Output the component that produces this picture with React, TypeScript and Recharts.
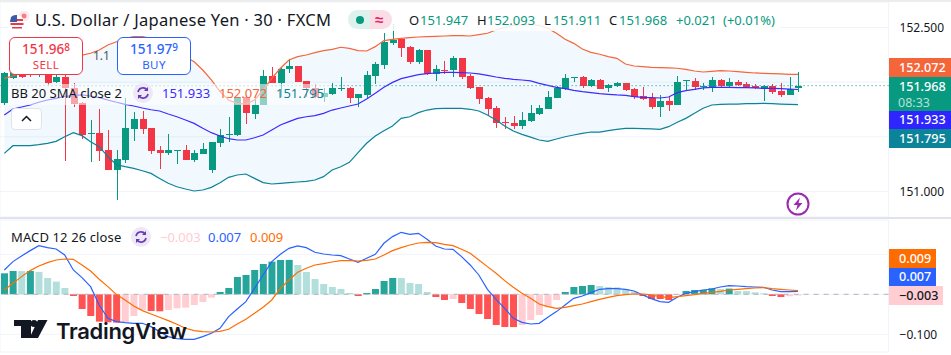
import { Bar, Area, Line, Cell, ComposedChart, CartesianGrid, XAxis, YAxis, ReferenceLine } from 'recharts';

// price pane, one value per 30 min candle
const opens = [151.812,152.041,152.127,152.142,152.066,152.066,151.998,152.044,151.944,151.806,151.529,151.532,151.380,151.197,151.288,151.575,151.660,151.578,151.376,151.355,151.373,151.380,151.288,151.346,151.197,151.447,151.523,151.517,151.867,151.709,151.791,152.056,151.995,152.117,152.148,152.011,151.948,151.867,151.895,151.941,151.947,151.855,151.883,152.056,152.160,152.361,152.392,152.322,152.184,152.294,152.078,152.114,152.114,152.221,152.056,151.953,151.855,151.761,151.636,151.626,151.602,151.648,151.709,151.758,151.858,151.941,152.035,152.047,151.965,152.017,151.944,151.965,151.989,151.937,151.870,151.852,151.776,151.825,151.794,152.011,152.011,151.959,151.959,152.020,151.965,151.998,151.980,151.965,151.941,151.962,151.916,151.883,151.947];
const highs = [152.096,152.105,152.148,152.166,152.148,152.127,152.066,152.416,151.989,151.822,151.654,151.752,151.562,151.380,151.852,151.730,151.736,151.578,151.416,151.526,151.380,151.425,151.380,151.441,151.450,151.569,151.678,151.867,151.883,151.867,152.111,152.142,152.127,152.209,152.148,152.011,151.979,151.948,151.989,152.044,151.953,151.889,152.099,152.187,152.447,152.532,152.407,152.331,152.303,152.294,152.157,152.194,152.239,152.221,152.075,151.959,151.864,151.782,151.684,151.690,151.724,151.791,151.791,151.919,151.965,152.075,152.047,152.056,152.026,152.026,151.983,152.005,151.989,151.944,151.953,151.898,151.883,151.867,152.056,152.017,152.035,151.989,152.044,152.029,152.035,152.020,151.998,151.983,151.974,151.983,151.989,152.044,152.093];
const lows = [151.791,152.026,152.035,152.044,152.050,151.974,151.989,151.282,151.776,151.477,151.273,151.279,151.197,150.922,151.264,151.465,151.526,151.340,151.203,151.334,151.252,151.288,151.273,151.346,151.172,151.410,151.456,151.508,151.617,151.663,151.791,151.989,151.867,152.087,152.005,151.867,151.851,151.822,151.883,151.922,151.812,151.770,151.858,151.983,152.120,152.340,152.227,152.166,152.166,152.066,152.011,152.075,152.050,152.032,151.937,151.800,151.700,151.584,151.572,151.572,151.572,151.639,151.700,151.751,151.852,151.928,152.002,151.950,151.959,151.934,151.913,151.959,151.922,151.849,151.837,151.755,151.684,151.739,151.794,151.928,151.928,151.928,151.913,151.953,151.953,151.965,151.944,151.937,151.831,151.892,151.867,151.883,151.911];
const closes = [152.087,152.096,152.050,152.066,152.127,151.989,152.050,151.944,151.797,151.517,151.535,151.370,151.197,151.297,151.578,151.660,151.575,151.370,151.355,151.380,151.380,151.288,151.349,151.389,151.450,151.517,151.529,151.867,151.715,151.791,152.056,151.995,152.120,152.148,152.005,151.948,151.867,151.898,151.944,151.947,151.855,151.889,152.066,152.166,152.364,152.386,152.312,152.184,152.294,152.078,152.120,152.108,152.218,152.047,151.950,151.846,151.755,151.626,151.626,151.602,151.654,151.718,151.767,151.864,151.950,152.038,152.047,151.962,152.020,151.941,151.974,151.992,151.931,151.861,151.846,151.776,151.825,151.794,151.998,152.017,151.959,151.965,152.017,151.965,151.998,151.974,151.956,151.944,151.962,151.913,151.883,151.941,151.968];
const bbUpper = [152.035,152.056,152.081,152.127,152.172,152.203,152.224,152.233,152.239,152.248,152.264,152.294,152.340,152.370,152.401,152.416,152.416,152.401,152.370,152.325,152.279,152.233,152.187,152.111,152.020,151.913,151.837,151.806,151.800,151.837,151.928,152.035,152.127,152.203,152.233,152.248,152.270,152.288,152.300,152.319,152.309,152.288,152.285,152.325,152.380,152.392,152.401,152.407,152.413,152.416,152.419,152.422,152.425,152.425,152.422,152.434,152.447,152.477,152.501,152.520,152.523,152.529,152.520,152.492,152.447,152.392,152.355,152.303,152.273,152.255,152.233,152.218,152.166,152.148,152.142,152.136,152.133,152.130,152.127,152.117,152.102,152.093,152.099,152.105,152.102,152.096,152.090,152.084,152.081,152.078,152.075,152.072,152.072];
const bbBasis = [151.700,151.755,151.773,151.791,151.816,151.837,151.852,151.870,151.876,151.883,151.873,151.858,151.837,151.816,151.797,151.782,151.764,151.748,151.736,151.709,151.684,151.654,151.623,151.578,151.538,151.508,151.483,151.471,151.471,151.492,151.517,151.562,151.608,151.639,151.669,151.684,151.694,151.715,151.745,151.764,151.782,151.800,151.846,151.898,151.953,151.998,152.032,152.050,152.069,152.078,152.084,152.090,152.090,152.087,152.084,152.075,152.062,152.047,152.035,152.026,152.020,152.011,151.989,151.971,151.953,151.941,151.925,151.913,151.904,151.895,151.889,151.883,151.880,151.867,151.861,151.858,151.855,151.864,151.904,151.922,151.934,151.947,151.953,151.953,151.953,151.950,151.950,151.947,151.944,151.944,151.941,151.937,151.933];
const bbLower = [151.349,151.419,151.419,151.419,151.428,151.441,151.459,151.501,151.538,151.511,151.456,151.410,151.319,151.245,151.227,151.212,151.190,151.166,151.120,151.075,151.044,151.023,151.005,151.014,151.038,151.081,151.130,151.151,151.160,151.120,151.081,151.069,151.075,151.081,151.087,151.093,151.105,151.136,151.197,151.227,151.267,151.355,151.441,151.508,151.556,151.599,151.669,151.684,151.721,151.745,151.758,151.761,151.761,151.761,151.752,151.736,151.700,151.654,151.599,151.553,151.523,151.498,151.471,151.459,151.480,151.501,151.517,151.532,151.544,151.544,151.556,151.569,151.578,151.578,151.575,151.572,151.569,151.593,151.633,151.669,151.715,151.761,151.791,151.797,151.800,151.800,151.803,151.803,151.806,151.803,151.800,151.797,151.795];

// macd pane
const histogram = [0.0525,0.0583,0.0581,0.0583,0.0558,0.0408,0.0317,0.0158,-0.0042,-0.0367,-0.0542,-0.0683,-0.07,-0.0708,-0.07,-0.0542,-0.0392,-0.0417,-0.0425,-0.0392,-0.035,-0.0333,-0.0267,-0.0192,-0.0083,0.0058,0.0158,0.0433,0.0483,0.0608,0.0758,0.0817,0.0858,0.086,0.0733,0.0558,0.0383,0.0258,0.0183,0.0133,0.0033,-0.0042,0.0033,0.0133,0.0333,0.0408,0.0406,0.0283,0.0258,0.0058,-0.0067,-0.0142,-0.0117,-0.0217,-0.0367,-0.0492,-0.0617,-0.0767,-0.0817,-0.0819,-0.0767,-0.0642,-0.0517,-0.0317,-0.0142,0.0058,0.0183,0.0208,0.0233,0.0208,0.0183,0.0175,0.0125,0.0067,-0.0042,-0.0117,-0.0119,-0.0142,-0.0017,0.0083,0.0108,0.011,0.015,0.0133,0.0142,0.0083,0.0081,0.005,0.0025,-0.0042,-0.0067,-0.005,-0.003];
const macdLine = [0.0608,0.0817,0.0958,0.1092,0.1217,0.1167,0.1133,0.0983,0.0608,0.0417,0.0192,-0.0267,-0.06,-0.0683,-0.0708,-0.0725,-0.0725,-0.0808,-0.0933,-0.1058,-0.1108,-0.1125,-0.1125,-0.1058,-0.0975,-0.085,-0.0558,-0.0367,-0.0183,0.015,0.0483,0.0817,0.1,0.115,0.1208,0.1167,0.105,0.1008,0.0983,0.0967,0.0883,0.08,0.09,0.1,0.1275,0.1442,0.155,0.15,0.1525,0.1375,0.1208,0.1133,0.1125,0.0942,0.0733,0.0483,0.0125,-0.0125,-0.035,-0.06,-0.07,-0.0742,-0.0725,-0.0575,-0.0433,-0.0267,-0.01,-0.0042,0.0042,0.0125,0.0142,0.0142,0.0125,0.0083,-0.0017,-0.0108,-0.0183,-0.02,-0.0075,0.0025,0.0067,0.0108,0.0133,0.0183,0.0217,0.0208,0.0192,0.0183,0.0175,0.0108,0.0067,0.0067,0.007];
const signalLine = [0.0108,0.0275,0.0442,0.0592,0.0708,0.0792,0.0858,0.0883,0.0875,0.0733,0.0583,0.0375,0.0192,-0.0008,-0.0142,-0.0292,-0.0408,-0.0492,-0.0575,-0.0658,-0.075,-0.085,-0.0908,-0.0933,-0.0942,-0.0925,-0.0875,-0.0742,-0.0625,-0.0475,-0.0325,-0.0142,0.015,0.0358,0.055,0.065,0.0733,0.0767,0.0808,0.0842,0.0842,0.0833,0.085,0.0883,0.0983,0.1092,0.1167,0.1233,0.1283,0.13,0.1292,0.125,0.1217,0.1125,0.1025,0.0858,0.0692,0.0525,0.0342,0.0175,0.0025,-0.01,-0.0242,-0.0308,-0.035,-0.0325,-0.0283,-0.0242,-0.0183,-0.0125,-0.0075,-0.0033,-0.0008,0.0008,0.0008,-0.0017,-0.0058,-0.0083,-0.0058,-0.0033,-0.0008,0.0025,0.005,0.0075,0.0108,0.0125,0.0142,0.0158,0.0167,0.0142,0.0125,0.0108,0.009];

// time axis runs past the last candle (empty slots on the right)
const slotCount = 103;
const gridSlots = [4, 16, 28, 40, 52, 64, 76, 88, 100];
const priceTicks = [151, 151.5, 152, 152.5];
const macdTicks = [-0.1, 0, 0.1];
const lastClose = 151.968;

const UP = '#089981';
const DOWN = '#F23645';
const GRID = '#F0F3FA';
const FONT = '"Noto Sans", sans-serif';

const priceData = Array.from({ length: slotCount }, (_, i) => ({
  i,
  open: opens[i],
  high: highs[i],
  low: lows[i],
  close: closes[i],
  upper: bbUpper[i],
  basis: bbBasis[i],
  lower: bbLower[i],
}));

const macdData = Array.from({ length: slotCount }, (_, i) => ({
  i,
  hist: histogram[i],
  macd: macdLine[i],
  signal: signalLine[i],
}));

// same colouring rule as the TradingView MACD histogram
function histColor(i: number) {
  const v = histogram[i];
  const rising = i === 0 || v > histogram[i - 1];
  if (v >= 0) return rising ? '#26A69A' : '#B2DFDB';
  return rising ? '#FFCDD2' : '#FF5252';
}

function Candle(props: any) {
  const { x, y, width, height, payload } = props;
  if (payload.open == null || !height) return null;
  const { open, high, low, close } = payload;
  const perUnit = height / (high - low);
  const cx = Math.round(x + width / 2);
  const top = y + (high - Math.max(open, close)) * perUnit;
  const bodyH = Math.max(Math.abs(open - close) * perUnit, 1);
  const color = close >= open ? UP : DOWN;
  return (
    <g shapeRendering="crispEdges">
      <rect x={cx} y={y} width={1} height={height} fill={color} />
      <rect x={cx - 3} y={top} width={7} height={bodyH} fill={color} />
    </g>
  );
}

function Txt({ x, y, size = 13, color = '#131722', weight = 400, spacing = 0, children }: any) {
  return (
    <div
      style={{
        position: 'absolute',
        left: x,
        top: y,
        transform: 'translateY(-50%)',
        fontSize: size,
        color,
        fontWeight: weight,
        letterSpacing: spacing,
        lineHeight: 1,
        whiteSpace: 'nowrap',
      }}
    >
      {children}
    </div>
  );
}

function Tag({ y, h, right = 951, bg, color = '#fff', children }: any) {
  return (
    <div
      style={{
        position: 'absolute',
        left: 889,
        top: y,
        width: right - 889,
        height: h,
        background: bg,
        color,
        fontSize: 12.6,
        fontWeight: 500,
        paddingLeft: 10,
        boxSizing: 'border-box',
        lineHeight: `${h}px`,
        whiteSpace: 'nowrap',
      }}
    >
      {children}
    </div>
  );
}

function RefreshIcon({ x, y }: { x: number; y: number }) {
  return (
    <svg style={{ position: 'absolute', left: x - 10, top: y - 10 }} width={20} height={20} viewBox="0 0 20 20">
      <circle cx={10} cy={10} r={10} fill="#EDE7F6" />
      <path d="M5 9a5 5 0 0 1 9-2" fill="none" stroke="#673AB7" strokeWidth={1.6} />
      <path d="M15 11a5 5 0 0 1-9 2" fill="none" stroke="#673AB7" strokeWidth={1.6} />
      <path d="M15 4v4h-4z M5 16v-4h4z" fill="#673AB7" />
    </svg>
  );
}

function OrderBox({ x, color, price, sup, label }: any) {
  return (
    <div
      style={{
        position: 'absolute',
        left: x,
        top: 37,
        width: 74,
        height: 38,
        background: '#fff',
        border: `1px solid ${color}`,
        borderRadius: 6,
        boxSizing: 'border-box',
        color,
        textAlign: 'center',
      }}
    >
      <div style={{ fontSize: 13.5, marginTop: 1, lineHeight: '17px', fontWeight: 500 }}>
        {price}
        <span style={{ fontSize: 10, verticalAlign: 3 }}>{sup}</span>
      </div>
      <div style={{ fontSize: 11.5, lineHeight: '14px', letterSpacing: 0.4 }}>{label}</div>
    </div>
  );
}

export default function App() {
  return (
    <div style={{ position: 'relative', width: 951, height: 355, overflow: 'hidden', background: '#fff', fontFamily: FONT }}>
      <style>{'body{margin:0}'}</style>

      <div style={{ position: 'absolute', left: 0, top: 0 }}>
        <ComposedChart width={951} height={218} data={priceData} margin={{ top: 2, right: 0, bottom: 1, left: 0 }} barCategoryGap={1}>
          <CartesianGrid stroke={GRID} strokeWidth={1} />
          <XAxis dataKey="i" ticks={gridSlots} interval={0} tick={false} axisLine={false} tickLine={false} height={0} />
          <YAxis
            orientation="right"
            domain={[150.767, 152.733]}
            allowDataOverflow
            ticks={priceTicks}
            width={62.4}
            axisLine={false}
            tickLine={false}
            tickMargin={5}
            tick={{ fontSize: 12, fill: '#131722', fontFamily: FONT }}
            tickFormatter={(v: number) => (v === 152.5 || v === 151 ? v.toFixed(3) : '')}
          />
          <Area dataKey={(d: any) => (d.upper == null ? null : [d.lower, d.upper])} fill="#2196F3" fillOpacity={0.06} stroke="none" isAnimationActive={false} />
          <Line dataKey="upper" stroke="#F7653A" strokeWidth={1.2} dot={false} isAnimationActive={false} />
          <Line dataKey="basis" stroke="#3D2BFF" strokeWidth={1.2} dot={false} isAnimationActive={false} />
          <Line dataKey="lower" stroke="#0B8399" strokeWidth={1.2} dot={false} isAnimationActive={false} />
          <ReferenceLine y={lastClose} stroke={UP} strokeDasharray="1 3" />
          <Bar dataKey={(d: any) => (d.low == null ? null : [d.low, d.high])} shape={Candle} isAnimationActive={false} />
        </ComposedChart>
      </div>

      <div style={{ position: 'absolute', left: 0, top: 219 }}>
        <ComposedChart width={951} height={135} data={macdData} margin={{ top: 1, right: 0, bottom: 2, left: 0 }} barCategoryGap={1}>
          <CartesianGrid stroke={GRID} strokeWidth={1} />
          <XAxis dataKey="i" ticks={gridSlots} interval={0} tick={false} axisLine={false} tickLine={false} height={0} />
          <YAxis
            orientation="right"
            domain={[-0.14425, 0.18575]}
            allowDataOverflow
            ticks={macdTicks}
            width={62.4}
            axisLine={false}
            tickLine={false}
            tickMargin={5}
            tick={{ fontSize: 12, fill: '#131722', fontFamily: FONT }}
            tickFormatter={(v: number) => (v === -0.1 ? '\u22120.100' : '')}
          />
          <ReferenceLine y={0} stroke="#B2B5BE" strokeDasharray="5 5" />
          <Bar dataKey="hist" barSize={7} isAnimationActive={false}>
            {macdData.map((d) => (
              <Cell key={d.i} fill={d.hist == null ? 'none' : histColor(d.i)} />
            ))}
          </Bar>
          <Line dataKey="macd" stroke="#2962FF" strokeWidth={1.2} dot={false} isAnimationActive={false} />
          <Line dataKey="signal" stroke="#FF6D00" strokeWidth={1.2} dot={false} isAnimationActive={false} />
        </ComposedChart>
      </div>

      {/* chrome lines */}
      <div style={{ position: 'absolute', left: 0, top: 0, width: 951, height: 2, background: '#EDEDED' }} />
      <div style={{ position: 'absolute', left: 0, top: 217, width: 951, height: 2, background: '#E0E3EB' }} />

      {/* header */}
      <div style={{ position: 'absolute', left: 8, top: 8, width: 772, height: 23, background: 'rgba(255,255,255,0.85)' }} />
      <svg style={{ position: 'absolute', left: 8, top: 8 }} width={24} height={24} viewBox="0 0 24 24">
        <circle cx={16} cy={8} r={5.5} fill="#FBE9EC" />
        <circle cx={16} cy={8} r={2.5} fill="#F23645" opacity={0.6} />
        <circle cx={9} cy={14} r={7} fill="#fff" />
        <path d="M3 11h12v2H2.5zM2.5 15h13v2h-13zM4 19h10v1.5H4z" fill="#E8394A" />
        <path d="M3 9a7 7 0 0 1 6-2v7H2z" fill="#3D5AA8" />
      </svg>
      <Txt x={35} y={20} size={16.5} color="#131722" spacing={0.28}>
        U.S. Dollar / Japanese Yen · 30 · FXCM
      </Txt>
      <div style={{ position: 'absolute', left: 348, top: 10, width: 22, height: 19, background: '#DDF1ED', borderRadius: '10px 0 0 10px' }} />
      <div style={{ position: 'absolute', left: 370, top: 10, width: 22, height: 19, background: '#FBDDE5', borderRadius: '0 10px 10px 0' }} />
      <div style={{ position: 'absolute', left: 356, top: 16, width: 8, height: 8, borderRadius: 4, background: UP }} />
      <Txt x={375} y={19} size={15} color="#E91E63" weight={700}>≈</Txt>
      <Txt x={409} y={20}>O</Txt>
      <Txt x={420} y={20} color={UP}>151.947</Txt>
      <Txt x={477} y={20}>H</Txt>
      <Txt x={487} y={20} color={UP}>152.093</Txt>
      <Txt x={544} y={20}>L</Txt>
      <Txt x={553} y={20} color={UP}>151.911</Txt>
      <Txt x={609} y={20}>C</Txt>
      <Txt x={619} y={20} color={UP}>151.968</Txt>
      <Txt x={676} y={20} color={UP}>+0.021</Txt>
      <Txt x={723} y={20} color={UP}>(+0.01%)</Txt>

      <OrderBox x={9} color={DOWN} price="151.96" sup="8" label="SELL" />
      <OrderBox x={117} color="#2962FF" price="151.97" sup="9" label="BUY" />
      <Txt x={93} y={56} size={12} color="#50535E">1.1</Txt>

      {/* BB legend row */}
      <div style={{ position: 'absolute', left: 8, top: 84, width: 321, height: 21, background: 'rgba(255,255,255,0.55)' }} />
      <Txt x={11} y={93} size={13} color="#131722">BB 20 SMA close 2</Txt>
      <RefreshIcon x={143} y={93} />
      <Txt x={162} y={93} color="#3D2BFF">151.933</Txt>
      <Txt x={219} y={93} color="#F7653A">152.072</Txt>
      <Txt x={276} y={93} color="#0B8399">151.795</Txt>
      <div style={{ position: 'absolute', left: 11, top: 108, width: 31, height: 22, boxSizing: 'border-box', border: '1px solid #E0E3EB', borderRadius: 4, background: '#fff' }} />
      <svg style={{ position: 'absolute', left: 20, top: 114 }} width={13} height={9} viewBox="0 0 13 9">
        <path d="M2 7l4.5-4.5L11 7" fill="none" stroke="#131722" strokeWidth={1.5} />
      </svg>

      {/* price tags */}
      <Tag y={58} h={19} bg="#F5653A">152.072</Tag>
      <div style={{ position: 'absolute', left: 889, top: 77, width: 62, height: 34, background: UP, color: '#fff', paddingLeft: 10, boxSizing: 'border-box', fontSize: 12.6, fontWeight: 500 }}>
        <div style={{ lineHeight: '19px' }}>151.968</div>
        <div style={{ lineHeight: '14px', fontSize: 12.5, fontWeight: 400, color: '#B5E0D8', marginLeft: -1 }}>08:33</div>
      </div>
      <Tag y={111} h={18} bg="#2E25FF">151.933</Tag>
      <Tag y={129} h={19} bg="#0B8399">151.795</Tag>

      {/* flash icon */}
      <svg style={{ position: 'absolute', left: 786, top: 192 }} width={24} height={24} viewBox="0 0 24 24">
        <circle cx={12} cy={12} r={10.5} fill="#fff" stroke="#9C27B0" strokeWidth={2} />
        <path d="M14 5.5L7.5 13h4L10 18.5 16.5 11h-4z" fill="#9C27B0" />
      </svg>

      {/* MACD legend */}
      <Txt x={11} y={237} size={13} color="#131722" spacing={0.12}>MACD 12 26 close</Txt>
      <RefreshIcon x={141} y={237} />
      <Txt x={160} y={237} color="#FFCDD2">{'\u22120.003'}</Txt>
      <Txt x={208} y={237} color="#2962FF">0.007</Txt>
      <Txt x={250} y={237} color="#FF6D00">0.009</Txt>

      <Tag y={249} h={19} right={936} bg="#FF6D00">0.009</Tag>
      <Tag y={268} h={18} right={936} bg="#2962FF">0.007</Tag>
      <Tag y={286} h={19} right={943} bg="#FFCDD2" color="#131722">{'\u22120.003'}</Tag>

      {/* TradingView mark */}
      <svg style={{ position: 'absolute', left: 14, top: 320 }} width={34} height={18} viewBox="0 0 34 18">
        <path d="M0 0h17v18H7V6H0z" fill="#131722" />
        <circle cx={20} cy={3.5} r={3.5} fill="#131722" />
        <path d="M24 0h9.5L24 18H15.5z" fill="#131722" />
      </svg>
      <Txt x={56} y={330} size={22} color="#131722" weight={600} spacing={-0.3}>
        <span style={{ fontFamily: 'Inter, sans-serif' }}>TradingView</span>
      </Txt>
    </div>
  );
}
